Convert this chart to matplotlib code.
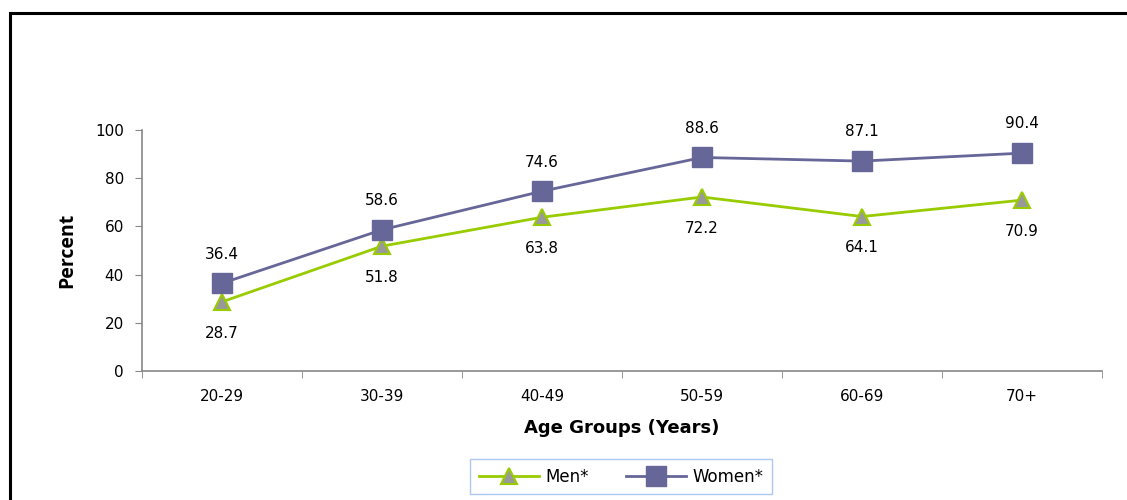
import matplotlib
matplotlib.use("Agg")
import matplotlib.pyplot as plt
from matplotlib.patches import Rectangle
import numpy as np

categories = ["20-29", "30-39", "40-49", "50-59", "60-69", "70+"]
men = [28.7, 51.8, 63.8, 72.2, 64.1, 70.9]
women = [36.4, 58.6, 74.6, 88.6, 87.1, 90.4]

W, H = 1127, 500
fig = plt.figure(figsize=(W / 100, H / 100), dpi=100)
fig.patch.set_facecolor("white")

# outer border (top and left visible)
fig.add_artist(Rectangle((9.5 / W, -0.1), 1.2, 1 - 12.5 / H + 0.1,
                         transform=fig.transFigure, fill=False,
                         edgecolor="black", linewidth=2.2))

ax = fig.add_axes([142 / W, 1 - 371 / H, (1102 - 142) / W, (371 - 130) / H])
x = np.arange(len(categories))

green = "#99CC00"
purple = "#666699"

ax.plot(x, men, color=green, linewidth=2, marker="^", markersize=12,
        markerfacecolor="#999999", markeredgecolor=green, markeredgewidth=1.5,
        label="Men*", zorder=3)
ax.plot(x, women, color=purple, linewidth=2, marker="s", markersize=15,
        markerfacecolor=purple, markeredgecolor=purple,
        label="Women*", zorder=3)

for xi, v in zip(x, women):
    ax.annotate(f"{v:.1f}", (xi, v), xytext=(0, 21), textcoords="offset points",
                ha="center", va="center", fontsize=11, family="DejaVu Sans")
for xi, v in zip(x, men):
    ax.annotate(f"{v:.1f}", (xi, v), xytext=(0, -22.5), textcoords="offset points",
                ha="center", va="center", fontsize=11, family="DejaVu Sans")

ax.set_xlim(-0.5, len(categories) - 0.5)
ax.set_ylim(0, 100)
ax.set_yticks(range(0, 101, 20))
ax.set_xticks(x)
ax.set_xticklabels(categories)
ax.set_xticks(np.arange(-0.5, len(categories), 1), minor=True)
ax.tick_params(axis="x", which="major", length=0, pad=13, labelsize=11)
ax.tick_params(axis="x", which="minor", length=5, color="#888888", direction="out")
ax.tick_params(axis="y", length=5, color="#888888", direction="out", labelsize=11, pad=8)

for s in ["top", "right"]:
    ax.spines[s].set_visible(False)
for s in ["left", "bottom"]:
    ax.spines[s].set_color("#888888")
    ax.spines[s].set_linewidth(1.2)

ax.set_xlabel("Age Groups (Years)", fontsize=13, fontweight="bold", labelpad=11)
ax.set_ylabel("Percent", fontsize=14, fontweight="bold", family="Open Sans",
              labelpad=13)

leg = ax.legend(loc="center", bbox_to_anchor=(621 / W, 1 - 476.5 / H),
                bbox_transform=fig.transFigure, ncol=2, frameon=True,
                fancybox=False, edgecolor="#99BBEE", fontsize=12,
                handlelength=3.6, columnspacing=2.2, borderpad=0.5,
                handletextpad=0.4, borderaxespad=0)
leg.get_frame().set_linewidth(1.0)

fig.savefig("out.png", dpi=100, facecolor="white")
